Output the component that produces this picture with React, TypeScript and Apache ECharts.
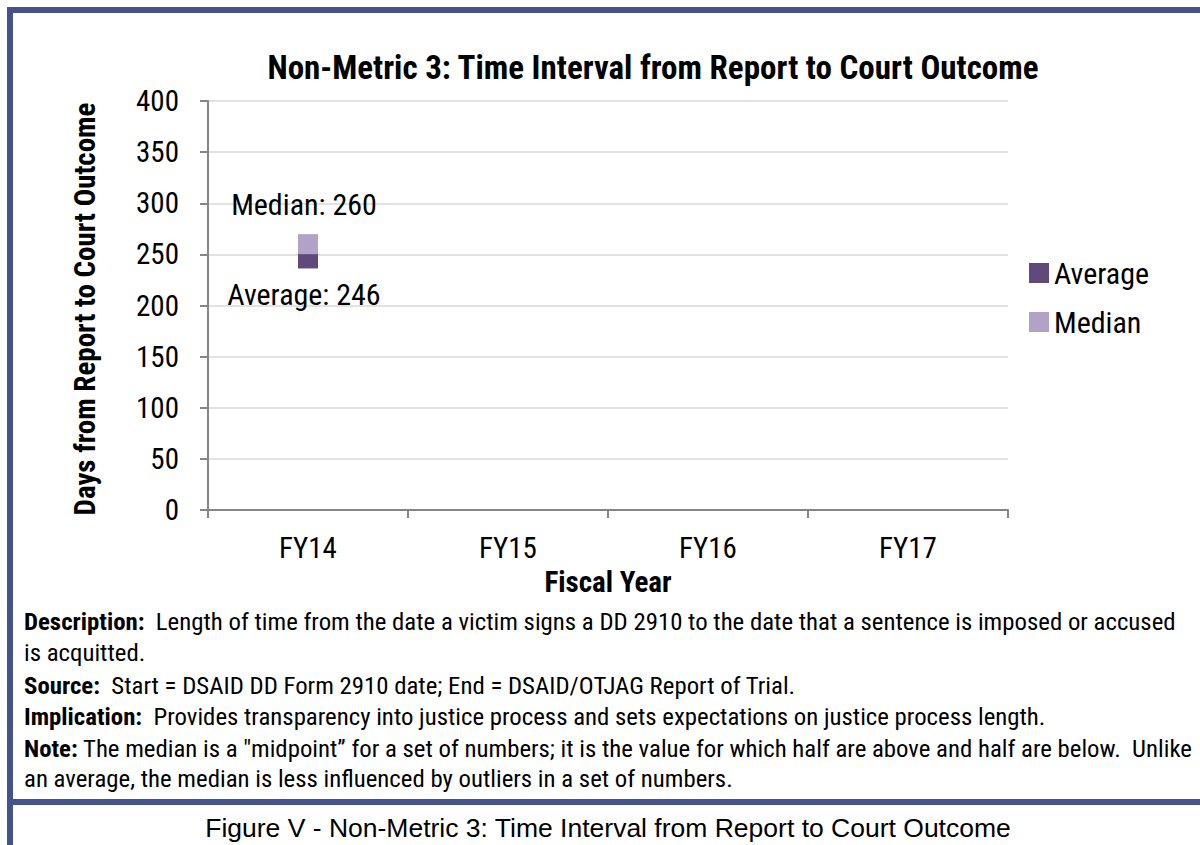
import React, { useEffect, useRef } from "react";
import * as echarts from "echarts";

const categories = ["FY14", "FY15", "FY16", "FY17"];
const averageValues: (number | null)[] = [246, null, null, null];
const medianValues: (number | null)[] = [260, null, null, null];
const yTicks = { min: 0, max: 400, interval: 50 };

const titleText = "Non-Metric 3: Time Interval from Report to Court Outcome";
const yAxisName = "Days from Report to Court Outcome";
const xAxisName = "Fiscal Year";
const captionText = "Figure V - Non-Metric 3: Time Interval from Report to Court Outcome";

const NARROW = "'Liberation Sans Narrow', 'Arial Narrow', 'Roboto Condensed', sans-serif";
const BORDER = "#44548a";
const AVG_COLOR = "#604a7b";
const MED_COLOR = "#b3a2c7";

export default function App() {
  const ref = useRef<HTMLDivElement>(null);
  useEffect(() => {
    if (!ref.current) return;
    const chart = echarts.init(ref.current, null, { renderer: "svg" });
    const DS = 24.8;
    const descStyle = { fontFamily: NARROW, fontSize: DS, fill: "#000" };
    const rich = {
      b: { fontFamily: NARROW, fontSize: DS, fontWeight: "bold", fill: "#000" },
      n: { fontFamily: NARROW, fontSize: DS, fill: "#000" },
    };
    const descLines = [
      { y: 621, text: "{b|Description:}{n|  Length of time from the date a victim signs a DD 2910 to the date that a sentence is imposed or accused}" },
      { y: 652, text: "{n|is acquitted.}" },
      { y: 685, text: "{b|Source:}{n|  Start = DSAID DD Form 2910 date; End = DSAID/OTJAG Report of Trial.}" },
      { y: 716, text: "{b|Implication:}{n|  Provides transparency into justice process and sets expectations on justice process length.}" },
      { y: 748, text: "{b|Note:}{n| The median is a \"midpoint\u201D for a set of numbers; it is the value for which half are above and half are below.  Unlike}" },
      { y: 778, text: "{n|an average, the median is less influenced by outliers in a set of numbers.}" },
    ];
    chart.setOption({
      animation: false,
      backgroundColor: "#ffffff",
      title: {
        text: titleText,
        left: 648,
        top: 46,
        textAlign: "center",
        textStyle: { fontFamily: NARROW, fontSize: 33, fontWeight: "bold", color: "#000" },
      },
      legend: {
        orient: "vertical",
        left: 1024,
        top: 253,
        itemWidth: 20,
        itemHeight: 20,
        itemGap: 19,
        icon: "rect",
        textStyle: { fontFamily: NARROW, fontSize: 30, color: "#000" },
        data: ["Average", "Median"],
      },
      grid: { left: 208, right: 192, top: 101, bottom: 335, containLabel: false },
      xAxis: {
        type: "category",
        data: categories,
        boundaryGap: true,
        axisLine: { lineStyle: { color: "#868686", width: 2 } },
        axisTick: { show: true, length: 8, lineStyle: { color: "#868686", width: 2 } },
        axisLabel: { fontFamily: NARROW, fontSize: 29, color: "#000", margin: 23 },
        splitLine: { show: false },
      },
      yAxis: {
        type: "value",
        min: yTicks.min,
        max: yTicks.max,
        interval: yTicks.interval,
        axisLine: { show: true, lineStyle: { color: "#868686", width: 2 } },
        axisTick: { show: true, length: 8, lineStyle: { color: "#868686", width: 2 } },
        axisLabel: { fontFamily: NARROW, fontSize: 29, color: "#000", margin: 29 },
        splitLine: { show: true, lineStyle: { color: "#d9d9d9", width: 1.5 } },
      },
      series: [
        {
          name: "Average",
          type: "scatter",
          data: averageValues,
          symbol: "rect",
          symbolSize: 20,
          itemStyle: { color: AVG_COLOR, opacity: 1 },
          label: {
            show: true,
            position: "bottom",
            distance: 11,
            offset: [-4, 0],
            formatter: "Average: {c}",
            fontFamily: NARROW,
            fontSize: 30,
            color: "#000",
          },
        },
        {
          name: "Median",
          type: "scatter",
          data: medianValues,
          symbol: "rect",
          symbolSize: 20,
          itemStyle: { color: MED_COLOR, opacity: 1 },
          label: {
            show: true,
            position: "top",
            distance: 15,
            offset: [-4, 0],
            formatter: "Median: {c}",
            fontFamily: NARROW,
            fontSize: 30,
            color: "#000",
          },
        },
      ],
      graphic: [
        { type: "rect", shape: { x: 7, y: 7, width: 6, height: 838 }, style: { fill: BORDER }, silent: true },
        { type: "rect", shape: { x: 7, y: 7, width: 1193, height: 6 }, style: { fill: BORDER }, silent: true },
        { type: "rect", shape: { x: 7, y: 799, width: 1193, height: 6 }, style: { fill: BORDER }, silent: true },
        {
          type: "text",
          x: 85,
          y: 309,
          rotation: Math.PI / 2,
          style: {
            text: yAxisName,
            fontFamily: NARROW,
            fontSize: 29,
            fontWeight: "bold",
            fill: "#000",
            align: "center",
            verticalAlign: "middle",
          },
        },
        {
          type: "text",
          x: 608,
          y: 582,
          style: {
            text: xAxisName,
            fontFamily: NARROW,
            fontSize: 29,
            fontWeight: "bold",
            fill: "#000",
            align: "center",
            verticalAlign: "middle",
          },
        },
        ...descLines.map((l) => ({
          type: "text",
          x: 24,
          y: l.y,
          style: { ...descStyle, text: l.text, rich, verticalAlign: "middle", align: "left" },
        })),
        {
          type: "text",
          x: 608,
          y: 828,
          style: {
            text: captionText,
            fontFamily: "'Liberation Sans', Arial, sans-serif",
            fontSize: 26.5,
            fill: "#000",
            align: "center",
            verticalAlign: "middle",
          },
        },
      ],
    });
    return () => chart.dispose();
  }, []);
  return (
    <div
      ref={ref}
      style={{ position: "fixed", left: 0, top: 0, width: 1200, height: 845, background: "#fff" }}
    />
  );
}
